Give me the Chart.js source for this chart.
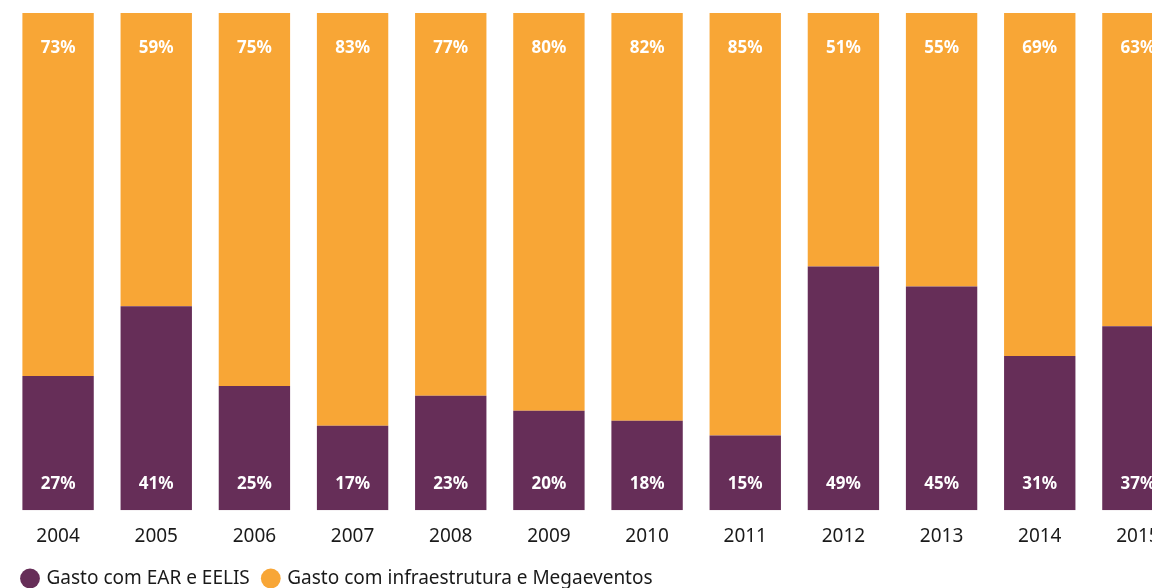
<!DOCTYPE html>
<html>
<head>
<meta charset="utf-8">
<script src="https://cdn.jsdelivr.net/npm/chart.js@4"></script>
<style>
  html, body { margin: 0; padding: 0; overflow: hidden; background: #fff; }
  #wrap { width: 1190px; height: 588px; }
</style>
</head>
<body>
<div id="wrap"><canvas id="myChart"></canvas></div>
<script>
const years = ['2004', '2005', '2006', '2007', '2008', '2009', '2010', '2011', '2012', '2013', '2014', '2015'];
const earEelis = [27, 41, 25, 17, 23, 20, 18, 15, 49, 45, 31, 37];
const infraMega = [73, 59, 75, 83, 77, 80, 82, 85, 51, 55, 69, 63];

const purple = 'rgb(102, 46, 88)';
const orange = 'rgb(248, 166, 54)';
const fontFamily = "'Noto Sans', Lato, sans-serif";

// draws the % inside each bar
const barLabels = {
  id: 'barLabels',
  afterDatasetsDraw(chart) {
    const ctx = chart.ctx;
    ctx.save();
    ctx.fillStyle = '#fff';
    ctx.font = "bold 17px " + fontFamily;
    ctx.textAlign = 'center';
    ctx.textBaseline = 'middle';
    chart.data.datasets.forEach((ds, i) => {
      const meta = chart.getDatasetMeta(i);
      meta.data.forEach((bar, j) => {
        const y = i === 0 ? bar.base - 26 : bar.y + 35;
        ctx.fillText(ds.data[j] + '%', bar.x, y);
      });
    });
    ctx.restore();
  }
};

new Chart(document.getElementById('myChart'), {
  type: 'bar',
  data: {
    labels: years,
    datasets: [{
      label: 'Gasto com EAR e EELIS',
      data: earEelis,
      backgroundColor: purple,
      borderWidth: 0
    }, {
      label: 'Gasto com infraestrutura e Megaeventos',
      data: infraMega,
      backgroundColor: orange,
      borderWidth: 0
    }]
  },
  options: {
    responsive: true,
    maintainAspectRatio: false,
    animation: false,
    layout: { padding: { left: 9, right: 3, top: 13, bottom: -10 } },
    datasets: { bar: { barPercentage: 0.727, categoryPercentage: 1 } },
    scales: {
      x: {
        stacked: true,
        grid: { display: false },
        border: { display: false },
        ticks: { color: '#1a1a1a', font: { family: fontFamily, size: 19 }, padding: 7 }
      },
      y: {
        stacked: true,
        display: false,
        min: 0,
        max: 100
      }
    },
    plugins: {
      legend: {
        position: 'bottom',
        align: 'start',
        labels: {
          usePointStyle: true,
          pointStyle: 'circle',
          boxWidth: 14,
          boxHeight: 14,
          color: '#1a1a1a',
          padding: 14,
          font: { family: fontFamily, size: 19 }
        }
      },
      tooltip: { enabled: false }
    }
  },
  plugins: [barLabels]
});
</script>
</body>
</html>
